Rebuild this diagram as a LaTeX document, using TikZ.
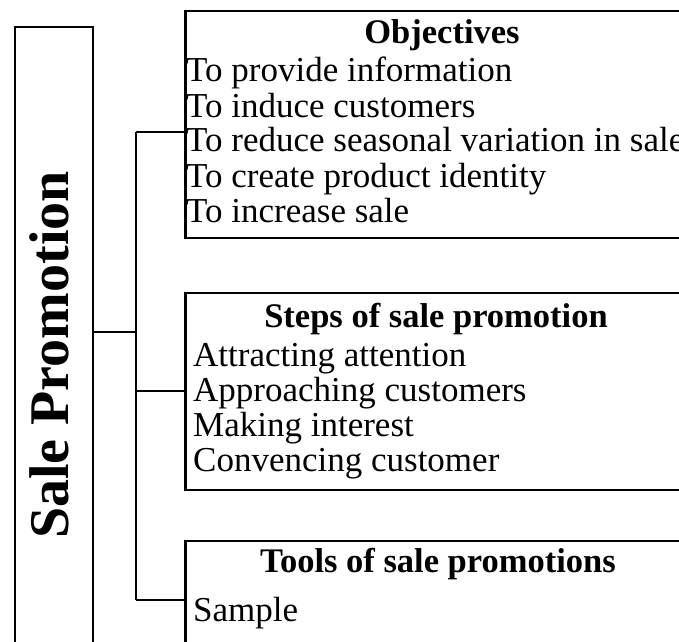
\documentclass[tikz,border=0pt]{standalone}
\usepackage{fontspec}
\setmainfont{Liberation Serif}
\begin{document}
\begin{tikzpicture}[x=1pt,y=-1pt,
  box/.style={draw, line width=2.2pt, rectangle, inner sep=0pt, anchor=north west},
  wire/.style={line width=2pt},
  body/.style={anchor=base west, inner sep=0pt, font=\fontsize{35}{35}\selectfont},
  head/.style={anchor=base, inner sep=0pt, font=\fontsize{34.5}{34.5}\selectfont\bfseries},
  title/.style={anchor=base, inner sep=0pt, rotate=90, font=\fontsize{56}{56}\selectfont\bfseries}]
\useasboundingbox (0,0) rectangle (679,641);
\clip (0,0) rectangle (679,641);
% boxes
\node[box, minimum width=77.3pt, minimum height=700pt] (main) at (14.2,26.2) {};
\node[box, minimum width=509pt, minimum height=226.5pt] (obj) at (184.3,10) {};
\node[box, minimum width=509pt, minimum height=197pt] (steps) at (184.3,292.2) {};
\node[box, minimum width=509pt, minimum height=120pt] (tools) at (184.3,540) {};
% title
\node[title] (t) at (68,355) {Sale Promotion};
% connectors
\coordinate (j) at (136.2,331.7);
\coordinate (j1) at (136.2,132.2);
\coordinate (j2) at (136.2,391.3);
\coordinate (j3) at (136.2,600);
\draw[wire] (main.east |- j) -- (j);
\draw[wire] (j1) -- (j3);
\draw[wire] (j1) -- (obj.west |- j1);
\draw[wire] (j2) -- (steps.west |- j2);
\draw[wire] (j3) -- (tools.west |- j3);
% objectives
\node[head] (oh) at (442,43.3) {Objectives};
\node[body] (o1) at (186,81.7) {To provide information};
\node[body] (o2) at (186,117.3) {To induce customers};
\node[body] (o3) at (186,151.7) {To reduce seasonal variation in sale};
\node[body] (o4) at (186,187.7) {To create product identity};
\node[body] (o5) at (186,222.7) {To increase sale};
% steps
\node[head] (sh) at (436,327.3) {Steps of sale promotion};
\node[body] (s1) at (193,366) {Attracting attention};
\node[body] (s2) at (193,401.3) {Approaching customers};
\node[body] (s3) at (193,436) {Making interest};
\node[body] (s4) at (193,471) {Convencing customer};
% tools
\node[head] (th) at (438,572.7) {Tools of sale promotions};
\node[body] (u1) at (193,621) {Sample};
\end{tikzpicture}
\end{document}
